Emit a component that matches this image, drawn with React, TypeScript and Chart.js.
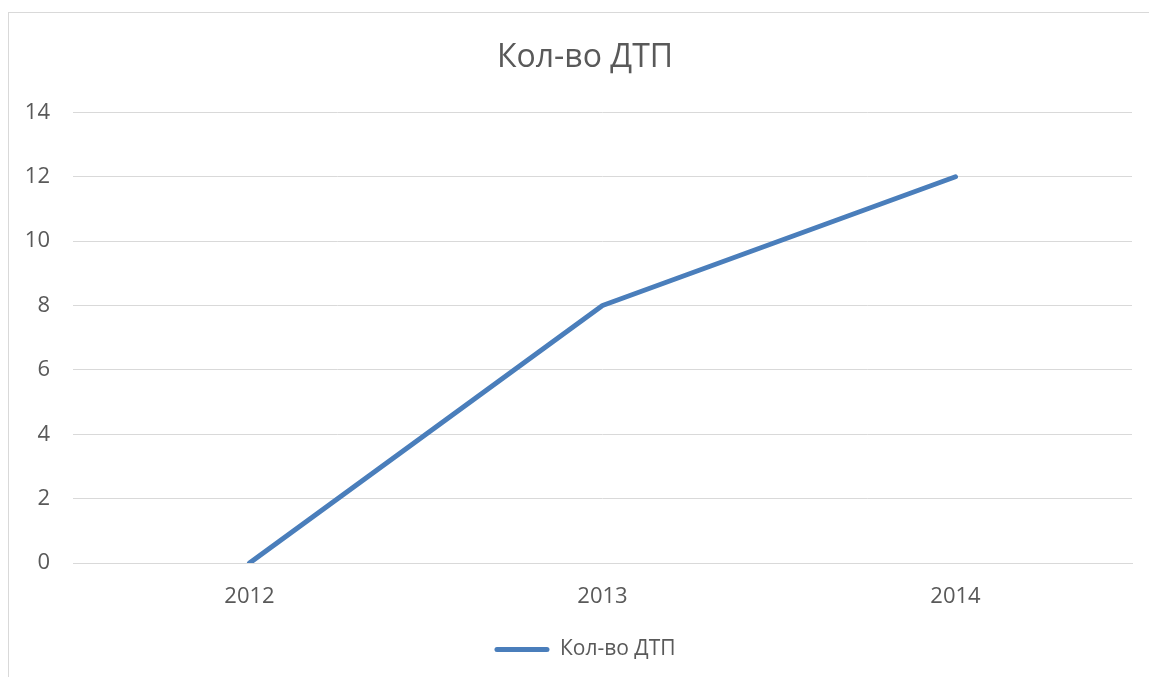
import { useEffect, useRef } from "react";
import { Chart, registerables } from "chart.js";

Chart.register(...registerables);

// Number of road accidents per year
const years: string[] = ["2012", "2013", "2014"];
const accidents: number[] = [0, 8, 12];
const seriesName = "Кол-во ДТП";
const chartTitle = "Кол-во ДТП";
const yMin = 0;
const yMax = 14;
const yStep = 2;

const FONT = "'Open Sans', 'Noto Sans', sans-serif";
const TEXT = "#595959";
const GRID = "#d9d9d9";
const LINE = "#4a7ebb";

export default function App() {
  const canvasRef = useRef<HTMLCanvasElement | null>(null);

  useEffect(() => {
    const canvas = canvasRef.current;
    if (!canvas) return;
    const chart = new Chart(canvas, {
      type: "line",
      data: {
        labels: years,
        datasets: [
          {
            label: seriesName,
            data: accidents,
            yAxisID: "y",
            borderColor: LINE,
            backgroundColor: LINE,
            borderWidth: 5,
            pointRadius: 0,
            pointHoverRadius: 0,
            tension: 0,
            borderCapStyle: "round",
            borderJoinStyle: "round",
          },
        ],
      },
      options: {
        responsive: false,
        animation: false,
        layout: { padding: { top: 26, left: 0, right: 0, bottom: 7 } },
        plugins: {
          title: {
            display: true,
            text: chartTitle,
            color: TEXT,
            font: { family: FONT, size: 32, weight: "normal", lineHeight: 1.2 },
            padding: { top: 0, bottom: 35 },
          },
          legend: {
            position: "bottom",
            labels: {
              color: TEXT,
              font: { family: FONT, size: 21 },
              boxWidth: 55,
              boxHeight: 5,
              padding: 10,
              useBorderRadius: true,
              borderRadius: 2.5,
              generateLabels: (c) =>
                Chart.defaults.plugins.legend.labels
                  .generateLabels(c)
                  .map((l) => ({ ...l, lineWidth: 0, fillStyle: LINE, strokeStyle: LINE })),
            },
          },
          tooltip: { enabled: false },
        },
        scales: {
          x: {
            offset: true,
            grid: { display: false, drawTicks: false },
            border: { display: true, color: GRID, width: 1 },
            ticks: { color: TEXT, font: { family: FONT, size: 22 }, padding: 21 },
            afterFit: (s) => {
              s.height = 66;
            },
          },
          y: {
            min: yMin,
            max: yMax,
            grid: { color: GRID, lineWidth: 1, drawTicks: false },
            border: { display: false },
            ticks: {
              stepSize: yStep,
              color: TEXT,
              font: { family: FONT, size: 22 },
              padding: 23,
            },
            afterFit: (s) => {
              s.width = 64;
            },
          },
          // empty right-hand margin so the title and legend stay centred on the whole chart
          yRight: {
            position: "right",
            grid: { display: false, drawTicks: false },
            border: { display: false },
            ticks: { display: false },
            afterFit: (s) => {
              s.width = 29;
            },
          },
        },
      },
    });
    return () => chart.destroy();
  }, []);

  return (
    <div
      style={{
        position: "fixed",
        left: 8,
        top: 12,
        width: 1170,
        height: 700,
        border: `1px solid ${GRID}`,
        background: "#fff",
      }}
    >
      <canvas ref={canvasRef} width={1152} height={664} style={{ display: "block" }} />
    </div>
  );
}
